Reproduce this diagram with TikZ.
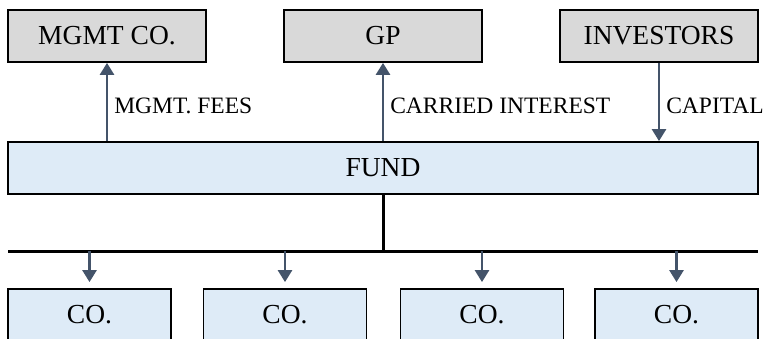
\documentclass[tikz,border=0pt]{standalone}
\usepackage{fontspec}
\setmainfont{Liberation Serif}
\usepackage{xcolor}
\usetikzlibrary{arrows.meta,positioning}
\definecolor{boxgray}{HTML}{D9D9D9}
\definecolor{boxblue}{HTML}{DEEBF7}
\definecolor{flow}{HTML}{44546A}

\begin{document}
\begin{tikzpicture}[
    x=1pt, y=-1pt,
    box/.style={draw, line width=1.8pt, minimum width=198pt, minimum height=52pt, inner sep=0pt, font=\fontsize{27.5}{30}\selectfont, fill=boxgray},
    fund/.style={box, fill=boxblue, minimum width=750pt},
    co/.style={box, fill=boxblue, minimum width=163pt},
    flowarrow/.style={-{Triangle[width=14pt,length=12pt]}, flow, line width=2.6pt},
    lbl/.style={right, text=black, font=\fontsize{23.5}{26}\selectfont, inner sep=6pt, yshift=-4pt},
    bus/.style={line width=3pt}
]
    \useasboundingbox (0,0) rectangle (765,339);
    \clip (0,0) rectangle (765,339);

    \node[box] (mgmt) at (107,36) {MGMT CO.};
    \node[box] (gp) at (383,36) {GP};
    \node[box] (investors) at (659,36) {INVESTORS};
    \node[fund] (fund) at (383,168) {FUND};

    \node[co] (co1) at (89.5,315) {CO.};
    \node[co] (co2) at (285,315) {CO.};
    \node[co] (co3) at (482,315) {CO.};
    \node[co] (co4) at (676.5,315) {CO.};

    \coordinate (busL) at (8,251);
    \coordinate (busR) at (758,251);

    \draw[flowarrow] (fund.north -| mgmt.south) -- (mgmt.south) node[lbl, midway] {MGMT. FEES};
    \draw[flowarrow] (fund.north -| gp.south) -- (gp.south) node[lbl, midway] {CARRIED INTEREST};
    \draw[flowarrow] (investors.south) -- (investors.south |- fund.north) node[lbl, midway] {CAPITAL};

    \draw[bus] (busL) -- (busR);
    \draw[bus] (fund.south) -- (fund.south |- busL);

    \draw[flowarrow, shorten >=6pt] (co1.north |- busL) -- (co1.north);
    \draw[flowarrow, shorten >=6pt] (co2.north |- busL) -- (co2.north);
    \draw[flowarrow, shorten >=6pt] (co3.north |- busL) -- (co3.north);
    \draw[flowarrow, shorten >=6pt] (co4.north |- busL) -- (co4.north);
\end{tikzpicture}
\end{document}
